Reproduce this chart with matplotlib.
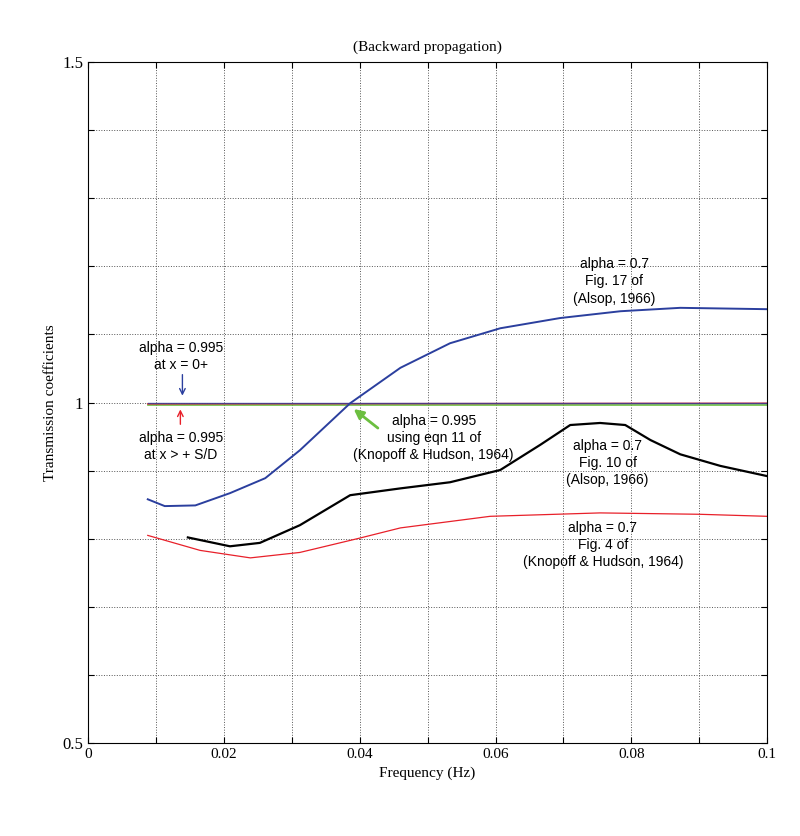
import matplotlib
matplotlib.use('Agg')
import matplotlib.pyplot as plt
import numpy as np

# alpha = 0.7, Fig. 17 of Alsop (1966)
f_a17 = [0.0088, 0.0113, 0.0158, 0.0209, 0.0261, 0.0312, 0.0386, 0.046, 0.0533,
         0.0607, 0.0695, 0.0784, 0.0872, 0.1]
t_a17 = [0.858, 0.848, 0.849, 0.867, 0.889, 0.930, 0.999, 1.051, 1.087,
         1.109, 1.124, 1.134, 1.139, 1.137]

# alpha = 0.7, Fig. 10 of Alsop (1966)
f_a10 = [0.0147, 0.0209, 0.0253, 0.0312, 0.0386, 0.046, 0.0533, 0.0607, 0.0666,
         0.071, 0.0754, 0.0791, 0.0828, 0.0872, 0.0931, 0.1]
t_a10 = [0.802, 0.789, 0.794, 0.820, 0.864, 0.874, 0.883, 0.901, 0.938,
         0.967, 0.970, 0.967, 0.945, 0.924, 0.907, 0.892]

# alpha = 0.7, Fig. 4 of Knopoff & Hudson (1964)
f_kh = [0.0088, 0.0165, 0.0239, 0.0312, 0.040, 0.046, 0.0592, 0.0754, 0.090, 0.1]
t_kh = [0.805, 0.783, 0.772, 0.780, 0.801, 0.816, 0.833, 0.838, 0.836, 0.833]

# alpha = 0.995 curves
f_flat = [0.0088, 0.1]
t_x0 = [1.000, 1.000]
t_xsd = [0.998, 0.999]
t_eqn11 = [0.997, 0.997]

serif = ['Liberation Serif', 'DejaVu Serif']
sans = ['Liberation Sans', 'DejaVu Sans']

fig = plt.figure(figsize=(8, 8.36), dpi=100)
ax = fig.add_axes([0.11, 0.111, 0.849, 0.815])

ax.plot(f_flat, t_eqn11, color='#6cbf40', lw=1.2)
ax.plot(f_flat, t_xsd, color='#e8202a', lw=1.0)
ax.plot(f_flat, t_x0, color='#2b3f9e', lw=1.0, alpha=0.8)
ax.plot(f_a17, t_a17, color='#2b3f9e', lw=1.4)
ax.plot(f_a10, t_a10, color='black', lw=1.6)
ax.plot(f_kh, t_kh, color='#e8202a', lw=0.9)

ax.set_xlim(0, 0.1)
ax.set_ylim(0.5, 1.5)
ax.set_xticks(np.arange(0, 0.1001, 0.01))
ax.set_xticklabels(['0', '', '0.02', '', '0.04', '', '0.06', '', '0.08', '', '0.1'])
ax.set_yticks(np.arange(0.5, 1.5001, 0.1))
ax.set_yticklabels(['0.5', '', '', '', '', '1', '', '', '', '', '1.5'])
ax.tick_params(direction='in', top=True, right=True, length=4)
for lab in ax.get_xticklabels() + ax.get_yticklabels():
    lab.set_family(serif)
ax.tick_params(axis='x', labelsize=11)
ax.tick_params(axis='y', labelsize=12)
ax.grid(True, linestyle=':', color='#555555', linewidth=0.7)

ax.set_xlabel('Frequency (Hz)', family=serif, fontsize=11)
ax.set_ylabel('Transmission coefficients', family=serif, fontsize=11)
ax.set_title('(Backward propagation)', family=serif, fontsize=11, pad=8)

kw = dict(ha='center', va='center', fontsize=10, family=sans, linespacing=1.3)
ax.text(0.0137, 1.068, 'alpha = 0.995\nat x = 0+', **kw)
ax.text(0.0137, 0.935, 'alpha = 0.995\nat x > + S/D', **kw)
ax.text(0.0509, 0.948, 'alpha = 0.995\nusing eqn 11 of\n(Knopoff & Hudson, 1964)', **kw)
ax.text(0.0775, 1.178, 'alpha = 0.7\nFig. 17 of\n(Alsop, 1966)', **kw)
ax.text(0.0765, 0.911, 'alpha = 0.7\nFig. 10 of\n(Alsop, 1966)', **kw)
ax.text(0.0758, 0.791, 'alpha = 0.7\nFig. 4 of\n(Knopoff & Hudson, 1964)', **kw)

ax.annotate('', xy=(0.0139, 1.006), xytext=(0.0139, 1.045),
            arrowprops=dict(arrowstyle='->', color='#2b3f9e', lw=1))
ax.annotate('', xy=(0.0136, 0.994), xytext=(0.0136, 0.964),
            arrowprops=dict(arrowstyle='->', color='#e8202a', lw=1))
ax.annotate('', xy=(0.0388, 0.993), xytext=(0.0430, 0.960),
            arrowprops=dict(arrowstyle='-|>', color='#6cbf40', lw=2, mutation_scale=14))

fig.savefig('out.png', dpi=100)
